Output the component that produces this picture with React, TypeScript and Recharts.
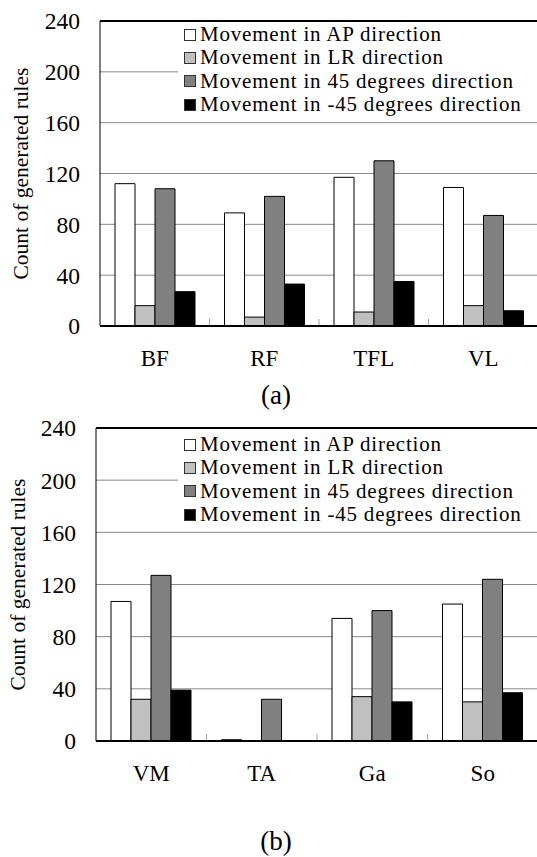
import { BarChart, Bar, XAxis, YAxis, CartesianGrid, Legend, ReferenceLine } from 'recharts';

const FONT = "'Liberation Serif', 'Times New Roman', serif";

const seriesNames = [
  'Movement in AP direction',
  'Movement in LR direction',
  'Movement in 45 degrees direction',
  'Movement in -45 degrees direction',
];
const seriesKeys = ['ap', 'lr', 'd45', 'dm45'];
const seriesColors = ['#ffffff', '#c0c0c0', '#808080', '#000000'];

// (a)
const musclesA = ['BF', 'RF', 'TFL', 'VL'];
const apA = [112, 89, 117, 109];
const lrA = [16, 7, 11, 16];
const d45A = [108, 102, 130, 87];
const dm45A = [27, 33, 35, 12];

// (b)
const musclesB = ['VM', 'TA', 'Ga', 'So'];
const apB = [107, 1, 94, 105];
const lrB = [32, 0, 34, 30];
const d45B = [127, 32, 100, 124];
const dm45B = [39, 0, 30, 37];

const yTicks = [0, 40, 80, 120, 160, 200, 240];

function build(names: string[], ...cols: number[][]) {
  return names.map((name, i) => {
    const row: Record<string, any> = { name };
    seriesKeys.forEach((k, j) => { row[k] = cols[j][i]; });
    return row;
  });
}

const dataA = build(musclesA, apA, lrA, d45A, dm45A);
const dataB = build(musclesB, apB, lrB, d45B, dm45B);

const CategoryTick = ({ x, y, payload }: any) => {
  const half = payload?.offset ?? 55;
  return (
    <g>
      <line x1={x + half} x2={x + half} y1={y - 1} y2={y - 7} stroke="#a0a0a0" strokeWidth={1} />
      <text x={x} y={y} dy={40} textAnchor="middle" fontSize={23} fill="#000" fontFamily={FONT}>
        {payload.value}
      </text>
    </g>
  );
};

const YLabel = ({ viewBox, cx }: any) => {
  const x = (viewBox?.x ?? 0) + cx;
  const y = (viewBox?.y ?? 0) + (viewBox?.height ?? 0) / 2;
  return (
    <text
      x={x}
      y={y}
      transform={`rotate(-90 ${x} ${y})`}
      textAnchor="middle"
      dominantBaseline="central"
      fontSize={21.5}
      fill="#000"
      fontFamily={FONT}
    >
      Count of generated rules
    </text>
  );
};

const LegendBox = ({ payload }: any) => {
  const items = [...(payload ?? [])].sort(
    (a: any, b: any) => seriesNames.indexOf(a.value) - seriesNames.indexOf(b.value),
  );
  return (
    <div
      style={{
        background: '#fff',
        padding: '1px 0 4px 6px',
        fontFamily: FONT,
        fontSize: 21,
        letterSpacing: '0.8px',
        lineHeight: '23.4px',
        color: '#000',
      }}
    >
      {items.map((p: any) => (
        <div key={p.value} style={{ display: 'flex', alignItems: 'center', whiteSpace: 'nowrap', height: 23.4 }}>
          <span
            style={{
              width: 10,
              height: 10,
              background: p.color,
              border: '1px solid #333',
              marginRight: 4,
              display: 'inline-block',
              flexShrink: 0,
            }}
          />
          <span>{p.value}</span>
        </div>
      ))}
    </div>
  );
};

function Panel({ data, left, legendTop, labelX, plotTop, bottom }: any) {
  return (
    <BarChart
      width={545}
      height={400}
      data={data}
      margin={{ top: plotTop, right: 7, left: 0, bottom }}
      barGap={0}
      barSize={20}
    >
      <CartesianGrid vertical={false} stroke="#8a8a8a" strokeWidth={1} />
      <XAxis
        dataKey="name"
        height={40}
        tickLine={false}
        tickSize={0}
        tickMargin={0}
        axisLine={{ stroke: '#000', strokeWidth: 2 }}
        tick={<CategoryTick />}
        interval={0}
      />
      <YAxis
        width={left}
        domain={[0, 240]}
        ticks={yTicks}
        tickLine={false}
        tickSize={0}
        tickMargin={20}
        axisLine={{ stroke: '#000', strokeWidth: 1 }}
        tick={{ fontSize: 23.5, fill: '#000', fontFamily: FONT }}
        label={<YLabel cx={labelX} />}
      />
      <ReferenceLine y={240} stroke="#000" strokeWidth={2} />
      <Legend
        layout="vertical"
        verticalAlign="middle"
        align="center"
        content={<LegendBox />}
        wrapperStyle={{ top: legendTop, left: 178, width: 380 }}
      />
      {seriesKeys.map((k, i) => (
        <Bar
          key={k}
          dataKey={k}
          name={seriesNames[i]}
          fill={seriesColors[i]}
          stroke="#000"
          strokeWidth={1}
          isAnimationActive={false}
        />
      ))}
    </BarChart>
  );
}

export default function App() {
  return (
    <div
      style={{
        position: 'absolute',
        left: 0,
        top: 0,
        width: 537,
        height: 857,
        overflow: 'hidden',
        background: '#fff',
        fontFamily: FONT,
      }}
    >
      <div style={{ position: 'absolute', left: 0, top: 0, width: 545, height: 400 }}>
        <Panel data={dataA} left={100} legendTop={22} labelX={21} plotTop={21} bottom={34} />
      </div>
      <div style={{ position: 'absolute', left: 0, top: 400, width: 545, height: 400 }}>
        <Panel data={dataB} left={96} legendTop={32} labelX={18} plotTop={28} bottom={19} />
      </div>
      <div
        style={{
          position: 'absolute',
          left: 226,
          width: 100,
          top: 380,
          textAlign: 'center',
          fontSize: 27,
          lineHeight: '30px',
        }}
      >
        (a)
      </div>
      <div
        style={{
          position: 'absolute',
          left: 226,
          width: 100,
          top: 826,
          textAlign: 'center',
          fontSize: 27,
          lineHeight: '30px',
        }}
      >
        (b)
      </div>
    </div>
  );
}
